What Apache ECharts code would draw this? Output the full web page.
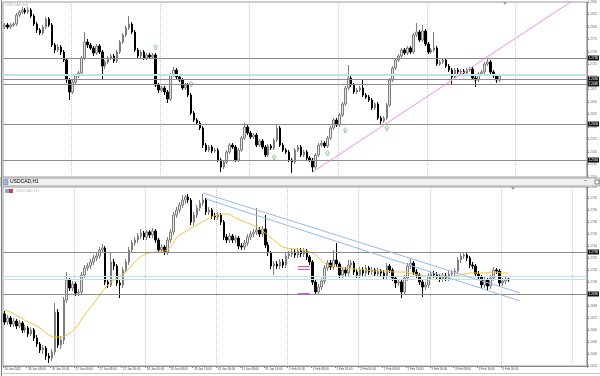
<!DOCTYPE html>
<html><head><meta charset="utf-8">
<script src="https://cdn.jsdelivr.net/npm/echarts/dist/echarts.min.js"></script>
<style>html,body{margin:0;padding:0;background:#fff}#c{width:600px;height:376px}</style>
</head><body><div id="c"></div>
<script>
// ---- H4 panel (prices in points, 1 point = 0.0001) ----
const h4Open=[12800,12804,12800,12804,12806,12824,12830,12834,12830,12834,12822,12806,12794,12788,12800,12816,12804,12764,12754,12760,12750,12734,12694,12670,12690,12702,12708,12738,12770,12764,12758,12748,12762,12750,12722,12730,12738,12742,12732,12750,12770,12784,12798,12806,12790,12754,12742,12750,12738,12744,12740,12744,12684,12674,12678,12670,12656,12704,12714,12700,12694,12678,12684,12664,12628,12614,12608,12598,12564,12554,12560,12552,12554,12534,12520,12530,12550,12564,12560,12534,12554,12578,12600,12588,12580,12584,12564,12572,12560,12544,12562,12558,12574,12598,12564,12554,12550,12534,12530,12554,12560,12544,12550,12538,12534,12520,12544,12564,12568,12562,12578,12598,12614,12604,12624,12646,12678,12698,12684,12670,12674,12678,12664,12660,12654,12638,12646,12618,12612,12618,12644,12694,12718,12734,12742,12754,12748,12758,12750,12784,12790,12774,12792,12766,12750,12754,12758,12726,12730,12734,12722,12714,12700,12714,12710,12712,12708,12714,12716,12698,12694,12706,12710,12726,12730,12710,12702,12694];
const h4Close=[12804,12800,12804,12806,12824,12830,12834,12830,12834,12822,12806,12794,12788,12800,12816,12804,12764,12754,12760,12750,12734,12694,12670,12690,12702,12708,12738,12770,12764,12758,12748,12762,12750,12722,12730,12738,12742,12732,12750,12770,12784,12798,12806,12790,12754,12742,12750,12738,12744,12740,12744,12684,12674,12678,12670,12656,12704,12714,12700,12694,12678,12684,12664,12628,12614,12608,12598,12564,12554,12560,12552,12554,12534,12520,12530,12550,12564,12560,12534,12554,12578,12600,12588,12580,12584,12564,12572,12560,12544,12562,12558,12574,12598,12564,12554,12550,12534,12530,12554,12560,12544,12550,12538,12534,12520,12544,12564,12568,12562,12578,12598,12614,12604,12624,12646,12678,12698,12684,12670,12674,12678,12664,12660,12654,12638,12646,12618,12612,12618,12644,12694,12718,12734,12742,12754,12748,12758,12750,12784,12790,12774,12792,12766,12750,12754,12758,12726,12730,12734,12722,12714,12700,12714,12710,12712,12708,12714,12716,12698,12694,12706,12710,12726,12730,12710,12702,12694,12702];
const h4Low=[12796,12796,12796,12800,12802,12820,12826,12826,12826,12818,12802,12788,12784,12784,12796,12800,12760,12748,12750,12744,12730,12688,12654,12666,12686,12698,12704,12734,12758,12754,12742,12744,12746,12694,12716,12726,12734,12728,12728,12746,12766,12780,12794,12786,12750,12738,12738,12734,12734,12736,12736,12680,12668,12670,12664,12648,12652,12700,12696,12690,12674,12674,12660,12624,12610,12604,12594,12558,12550,12550,12548,12548,12530,12510,12516,12526,12546,12556,12530,12530,12550,12574,12584,12576,12576,12560,12560,12556,12540,12540,12554,12554,12570,12560,12550,12546,12530,12508,12526,12550,12540,12540,12534,12530,12510,12516,12540,12560,12558,12558,12574,12594,12600,12600,12620,12642,12674,12680,12666,12666,12670,12660,12656,12650,12634,12634,12614,12604,12608,12614,12640,12690,12714,12730,12738,12744,12744,12746,12746,12780,12770,12770,12762,12746,12746,12750,12722,12722,12726,12718,12710,12684,12696,12706,12706,12704,12704,12710,12694,12680,12690,12702,12706,12722,12706,12698,12688,12690];
const h4High=[12808,12808,12808,12810,12828,12834,12840,12838,12840,12838,12826,12810,12798,12804,12820,12820,12808,12768,12766,12764,12754,12738,12698,12694,12706,12712,12742,12790,12776,12768,12762,12766,12766,12754,12734,12742,12746,12746,12754,12774,12788,12802,12822,12810,12794,12758,12754,12754,12748,12748,12748,12748,12688,12682,12682,12674,12708,12720,12718,12704,12698,12688,12688,12668,12632,12618,12612,12602,12568,12564,12564,12558,12558,12538,12534,12554,12568,12568,12564,12558,12582,12608,12604,12592,12588,12588,12576,12576,12564,12566,12566,12578,12604,12602,12568,12558,12554,12538,12558,12564,12564,12554,12554,12542,12538,12548,12568,12574,12572,12582,12602,12618,12618,12628,12650,12682,12724,12702,12688,12678,12682,12696,12668,12664,12658,12650,12650,12622,12622,12648,12698,12722,12738,12746,12758,12758,12762,12762,12788,12808,12794,12804,12796,12770,12758,12790,12762,12734,12738,12738,12726,12718,12718,12718,12716,12716,12718,12720,12720,12702,12710,12714,12730,12738,12734,12714,12706,12704];
const h4Levels=[12738,12696,12686,12606,12534];
const h4BidAsk=[12705,12703];
const h4TrendStart=[104,12510], h4TrendEnd=[191,12850];
const h4Fractals=[[51,12760],[63,12686],[91,12540],[109,12548],[115,12594],[129,12598]];

// ---- H1 panel ----
const h1Open=[12676,12668,12672,12666,12669,12664,12667,12660,12662,12656,12660,12652,12646,12640,12642,12634,12632,12638,12678,12645,12650,12690,12710,12702,12706,12697,12698,12715,12722,12724,12728,12732,12734,12740,12742,12708,12705,12728,12724,12707,12705,12720,12728,12740,12747,12750,12754,12757,12753,12758,12755,12759,12750,12740,12743,12738,12750,12758,12775,12780,12785,12790,12793,12790,12768,12775,12782,12787,12790,12778,12780,12774,12773,12775,12768,12753,12750,12754,12750,12752,12744,12743,12747,12753,12756,12758,12760,12756,12761,12745,12737,12724,12726,12724,12728,12725,12734,12736,12738,12735,12739,12736,12739,12733,12728,12708,12698,12703,12709,12722,12727,12723,12730,12726,12715,12720,12717,12725,12727,12718,12715,12720,12717,12722,12718,12720,12716,12719,12717,12714,12724,12720,12712,12707,12708,12698,12712,12724,12727,12718,12715,12708,12703,12705,12714,12716,12715,12713,12711,12714,12712,12716,12717,12719,12730,12734,12735,12732,12725,12724,12716,12713,12705,12710,12704,12712,12720,12719,12707,12709,12711];
const h1Close=[12668,12672,12666,12669,12664,12667,12660,12662,12656,12660,12652,12646,12640,12642,12634,12632,12638,12678,12645,12650,12690,12710,12702,12706,12697,12698,12715,12722,12724,12728,12732,12734,12740,12742,12708,12705,12728,12724,12707,12705,12720,12728,12740,12747,12750,12754,12757,12753,12758,12755,12759,12750,12740,12743,12738,12750,12758,12775,12780,12785,12790,12793,12790,12768,12775,12782,12787,12790,12778,12780,12774,12773,12775,12768,12753,12750,12754,12750,12752,12744,12743,12747,12753,12756,12758,12760,12756,12761,12745,12737,12724,12726,12724,12728,12725,12734,12736,12738,12735,12739,12736,12739,12733,12728,12708,12698,12703,12709,12722,12727,12723,12730,12726,12715,12720,12717,12725,12727,12718,12715,12720,12717,12722,12718,12720,12716,12719,12717,12714,12724,12720,12712,12707,12708,12698,12712,12724,12727,12718,12715,12708,12703,12705,12714,12716,12715,12713,12711,12714,12712,12716,12717,12719,12730,12734,12735,12732,12725,12724,12716,12713,12705,12710,12704,12712,12720,12719,12707,12709,12711,12710];
const h1Low=[12665,12665,12663,12663,12661,12662,12657,12657,12653,12654,12649,12643,12637,12636,12630,12627,12629,12635,12642,12641,12646,12687,12699,12699,12694,12694,12695,12712,12719,12721,12725,12729,12731,12737,12705,12702,12703,12720,12704,12692,12702,12717,12725,12737,12744,12747,12751,12750,12750,12752,12752,12747,12737,12737,12735,12735,12747,12755,12772,12777,12782,12786,12787,12765,12764,12772,12779,12784,12775,12775,12771,12770,12770,12765,12750,12747,12747,12747,12747,12741,12740,12740,12744,12750,12753,12755,12753,12753,12742,12734,12721,12715,12721,12721,12722,12722,12731,12733,12732,12732,12733,12733,12730,12725,12705,12695,12695,12700,12706,12719,12720,12720,12723,12712,12712,12714,12714,12722,12715,12712,12712,12714,12714,12715,12715,12713,12713,12714,12711,12711,12717,12709,12702,12704,12692,12695,12709,12721,12715,12712,12705,12693,12700,12702,12711,12712,12710,12708,12708,12709,12709,12713,12714,12716,12727,12731,12729,12722,12721,12713,12710,12702,12702,12700,12701,12709,12716,12704,12704,12706,12708];
const h1High=[12679,12675,12674,12672,12671,12670,12669,12665,12664,12663,12662,12655,12648,12645,12644,12637,12641,12687,12681,12654,12693,12718,12712,12709,12708,12701,12718,12725,12727,12731,12735,12737,12743,12746,12744,12711,12738,12731,12726,12710,12723,12731,12743,12750,12753,12757,12761,12759,12760,12760,12762,12761,12752,12746,12745,12753,12761,12778,12783,12788,12795,12795,12796,12792,12778,12785,12790,12796,12792,12783,12782,12777,12778,12777,12770,12756,12757,12756,12755,12754,12747,12750,12756,12759,12761,12782,12763,12764,12775,12748,12739,12729,12729,12731,12731,12737,12739,12741,12741,12742,12742,12742,12741,12735,12730,12710,12706,12712,12725,12730,12730,12740,12747,12728,12723,12723,12730,12730,12729,12721,12723,12723,12725,12724,12723,12722,12722,12721,12720,12727,12726,12722,12714,12711,12710,12715,12727,12732,12729,12721,12717,12710,12708,12717,12719,12719,12718,12716,12717,12717,12719,12720,12722,12733,12737,12738,12737,12734,12728,12726,12719,12715,12713,12712,12715,12723,12722,12721,12712,12713,12712];
const maIdx=[0,2,5,8,12,15,18,21,24,27,31,34,37,41,44,47,51,54,56,58,62,65,68,72,75,78,82,85,88,92,95,98,102,105,108,112,115,118,122,125,128,132,135,138,142,145,148,152,155,158,162,165,168,170];
const maVal=[12680,12678,12673,12668,12662,12655,12653,12655,12662,12675,12690,12702,12710,12718,12728,12735,12738,12739,12743,12752,12760,12765,12770,12775,12776,12772,12767,12763,12757,12747,12742,12741,12739,12735,12727,12723,12722,12721,12720,12719,12719,12718,12718,12716,12714,12713,12713,12714,12716,12717,12717,12718,12717,12717];
const h1Levels=[12738,12696];
const h1BidAsk=[12714,12711];
const h1ChannelA=[[67,12797],[174,12697]];
const h1ChannelB=[[68,12791],[174,12689]];
const h1Fib=[12724,12721,12697];
const h1TickLabels=['26 Jan 2022','26 Jan 08:00','26 Jan 16:00','27 Jan 00:00','27 Jan 08:00','27 Jan 16:00','28 Jan 00:00','28 Jan 08:00','28 Jan 16:00','31 Jan 00:00','31 Jan 08:00','31 Jan 16:00','1 Feb 00:00','1 Feb 08:00','1 Feb 16:00','2 Feb 00:00','2 Feb 08:00','2 Feb 16:00','3 Feb 00:00','3 Feb 08:00','3 Feb 16:00','4 Feb 00:00'];

const SLOTS=197;
const cats=Array.from({length:SLOTS},(_,i)=>String(i));
const ohlc=(o,c,l,h)=>o.map((v,i)=>[o[i],c[i],l[i],h[i]]);
const fmt=v=>(v/10000).toFixed(4);
const FONT='Liberation Sans';

const candleStyle={color:'#e6e6e6',color0:'#000000',borderColor:'#7d7d7d',borderColor0:'#000000',borderWidth:1};
const levelLabel={show:true,position:'end',formatter:p=>fmt(p.value),fontSize:3,color:'#fff',backgroundColor:'#111',padding:[1,1],distance:1,fontFamily:FONT};

const chart=echarts.init(document.getElementById('c'),null,{renderer:'canvas'});
chart.setOption({
  animation:false,
  backgroundColor:'#ffffff',
  grid:[
    {left:3,top:2,width:591,height:175,show:true,borderColor:'#9a9a9a',borderWidth:1,backgroundColor:'#fff'},
    {left:3,top:187,width:591,height:179,show:true,borderColor:'#9a9a9a',borderWidth:1,backgroundColor:'#fff'}
  ],
  xAxis:[
    {type:'category',gridIndex:0,data:cats,boundaryGap:true,axisLine:{show:false},axisTick:{show:false},axisLabel:{show:false},
     splitLine:{show:true,interval:(i)=>i>0&&(i-23)%30===0,lineStyle:{color:'#c8c8c8',type:'dotted',width:1}}},
    {type:'category',gridIndex:1,data:cats,boundaryGap:true,axisLine:{show:true,lineStyle:{color:'#8a8a8a'}},
     axisTick:{show:true,length:2,interval:(i)=>i%8===0&&i/8<h1TickLabels.length,lineStyle:{color:'#8a8a8a'}},
     axisLabel:{show:true,interval:(i)=>i%8===0&&i/8<h1TickLabels.length,formatter:(v,i)=>h1TickLabels[i/8]||'',fontSize:3,color:'#444',align:'left',margin:2,fontFamily:FONT},
     splitLine:{show:true,interval:(i)=>i>0&&i%24===0,lineStyle:{color:'#c8c8c8',type:'dotted',width:1}}}
  ],
  yAxis:[
    {type:'value',gridIndex:0,position:'right',min:12500,max:12850,interval:25,splitLine:{show:false},
     axisLine:{show:true,lineStyle:{color:'#8a8a8a'}},axisTick:{show:true,length:2,lineStyle:{color:'#8a8a8a'}},
     axisLabel:{show:true,formatter:fmt,fontSize:3,color:'#666',margin:1,fontFamily:FONT}},
    {type:'value',gridIndex:1,position:'right',min:12624,max:12803,interval:12,splitLine:{show:false},
     axisLine:{show:true,lineStyle:{color:'#8a8a8a'}},axisTick:{show:true,length:2,lineStyle:{color:'#8a8a8a'}},
     axisLabel:{show:true,formatter:fmt,fontSize:3,color:'#666',margin:1,fontFamily:FONT}}
  ],
  series:[
    {type:'candlestick',xAxisIndex:0,yAxisIndex:0,barWidth:2,data:ohlc(h4Open,h4Close,h4Low,h4High),itemStyle:candleStyle,
     markLine:{silent:true,symbol:'none',animation:false,lineStyle:{color:'#8c8c8c',width:1,type:'solid'},label:levelLabel,
       data:h4Levels.map(v=>({yAxis:v}))}},
    {type:'line',xAxisIndex:0,yAxisIndex:0,data:[],markLine:{silent:true,symbol:'none',animation:false,
       lineStyle:{color:'#bfe3ee',width:1,type:'solid'},label:{show:false},data:h4BidAsk.map(v=>({yAxis:v}))}},
    {type:'line',xAxisIndex:0,yAxisIndex:0,data:[],markLine:{silent:true,symbol:'none',animation:false,
       lineStyle:{color:'#f08cf0',width:1,type:'solid'},label:{show:false},
       data:[[{coord:h4TrendStart},{coord:h4TrendEnd}]]}},
    {type:'scatter',xAxisIndex:0,yAxisIndex:0,data:h4Fractals,symbol:'path://M5,0 L10,5 L7,5 L7,10 L3,10 L3,5 L0,5 Z',
     symbolSize:[4,5],itemStyle:{color:'#ffffff',borderColor:'#67b867',borderWidth:0.8}},
    {type:'candlestick',xAxisIndex:1,yAxisIndex:1,barWidth:2,data:ohlc(h1Open,h1Close,h1Low,h1High),itemStyle:candleStyle,
     markLine:{silent:true,symbol:'none',animation:false,lineStyle:{color:'#8c8c8c',width:1,type:'solid'},label:levelLabel,
       data:h1Levels.map(v=>({yAxis:v}))}},
    {type:'line',xAxisIndex:1,yAxisIndex:1,data:[],markLine:{silent:true,symbol:'none',animation:false,
       lineStyle:{color:'#bfe3ee',width:1,type:'solid'},label:{show:false},data:h1BidAsk.map(v=>({yAxis:v}))}},
    {type:'line',xAxisIndex:1,yAxisIndex:1,data:maIdx.map((x,k)=>[x,maVal[k]]),smooth:true,showSymbol:false,
     lineStyle:{color:'#f2c232',width:1},z:3},
    {type:'line',xAxisIndex:1,yAxisIndex:1,data:[],markLine:{silent:true,symbol:'none',animation:false,
       lineStyle:{color:'#93b9ee',width:1,type:'solid'},label:{show:false},
       data:[[{coord:h1ChannelA[0]},{coord:h1ChannelA[1]}],[{coord:h1ChannelB[0]},{coord:h1ChannelB[1]}]]}},
    {type:'line',xAxisIndex:1,yAxisIndex:1,data:[],markLine:{silent:true,symbol:'none',animation:false,
       lineStyle:{color:'#d94ad9',width:1,type:'solid'},label:{show:false},
       data:h1Fib.map(v=>[{coord:[99,v]},{coord:[103,v]}])}}
  ],
  graphic:[
    {type:'rect',shape:{x:0,y:178,width:600,height:8},style:{fill:'#f0f0f0',stroke:'#a8a8a8',lineWidth:1},z:100},
    {type:'rect',shape:{x:3,y:179.5,width:5,height:5},style:{fill:'#9fb6d8',stroke:'#5a7ab0',lineWidth:0.5},z:101},
    {type:'text',x:10,y:179.5,style:{text:'USDCAD,H1',fontSize:5,fill:'#000',fontFamily:FONT},z:101},
    {type:'text',x:584,y:178.5,style:{text:'–',fontSize:5,fill:'#333',fontFamily:FONT},z:101},
    {type:'rect',shape:{x:595,y:180,width:4,height:4},style:{fill:'#fff',stroke:'#333',lineWidth:0.6},z:101},
    {type:'text',x:5,y:3,style:{text:'USDCAD,H4',fontSize:4,fill:'#b0b0b0',fontFamily:FONT},z:101},
    {type:'rect',shape:{x:5,y:189,width:4,height:4},style:{fill:'#8fa3cf'},z:101},
    {type:'rect',shape:{x:9,y:189,width:4,height:4},style:{fill:'#d04040'},z:101},
    {type:'text',x:16,y:189,style:{text:'USDCAD,H1',fontSize:4,fill:'#b8b8b8',fontFamily:FONT},z:101},
    {type:'line',shape:{x1:1.5,y1:0,x2:1.5,y2:376},style:{stroke:'#7a7a7a',lineWidth:1},z:100},
    {type:'line',shape:{x1:0,y1:373.5,x2:600,y2:373.5},style:{stroke:'#c8c8c8',lineWidth:1},z:100},
    {type:'polygon',shape:{points:[[503,2],[507,2],[505,5]]},style:{fill:'#9a9a9a'},z:101},
    {type:'polygon',shape:{points:[[511,187],[515,187],[513,190]]},style:{fill:'#9a9a9a'},z:101}
  ]
});
</script></body></html>
